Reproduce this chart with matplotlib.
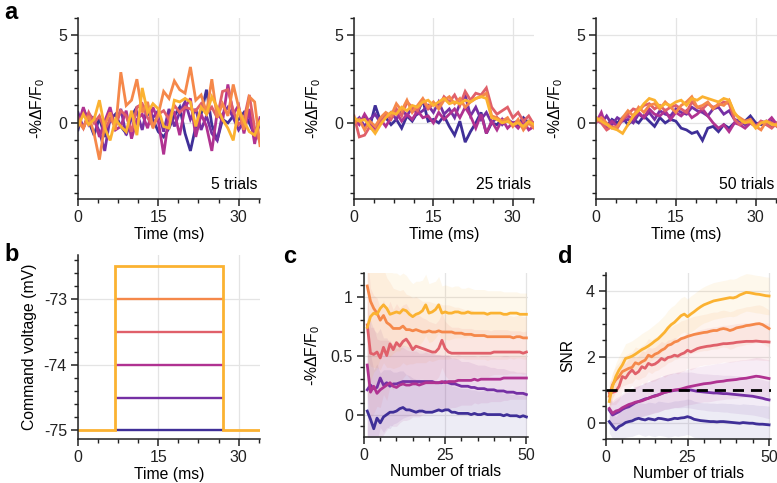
import numpy as np
import matplotlib
matplotlib.use("Agg")
import matplotlib.pyplot as plt
from matplotlib.ticker import MultipleLocator, AutoMinorLocator

plt.rcParams['font.family'] = ['Liberation Sans', 'DejaVu Sans']
plt.rcParams['mathtext.fontset'] = 'custom'
plt.rcParams['mathtext.rm'] = 'Liberation Sans'
plt.rcParams['mathtext.it'] = 'Liberation Sans:italic'
plt.rcParams['axes.unicode_minus'] = False

colors = ['#3F2F98', '#7530A4', '#B03291', '#E0606A', '#F5884A', '#FBB231']
names = ['darkblue', 'purple', 'magenta', 'salmon', 'orange', 'yellow']

# ---------------- panel a data (time 0..34 ms, 1 ms step) ----------------
time_ms = list(range(35))

a5_darkblue = [-0.4, 0.8, 0.1, -0.7, 0.3, -0.8, 0.2, 0.5, -0.2, -0.6, 0.4, 0.9, 1.0, 0.6, 0.2, -0.5, -0.8, -0.3, 0.4, 0.9, -0.6, -1.6, -0.2, 0.5, 1.9, -0.1, -1.0, 0.2, 0.0, 0.4, 0.2, 0.6, 0.0, -0.7, 0.2]
a5_purple = [0.6, -0.3, 0.5, 0.2, -0.5, -1.6, 0.3, -0.2, 0.8, -0.7, 0.3, 0.6, -0.4, 1.0, 0.3, 0.7, -0.5, 0.8, -0.2, 0.6, 1.2, 0.2, 0.8, -0.4, 0.4, -0.6, -1.0, 0.5, 0.9, 0.3, -0.4, 0.1, 0.5, -0.9, 0.0]
a5_magenta = [-0.2, 0.9, -0.1, 0.3, -0.8, 0.1, 0.9, -0.4, -0.2, 0.7, -0.9, 0.2, 0.5, -0.3, 0.9, 0.1, -1.8, 0.4, 0.6, -0.7, 0.9, 1.4, -0.8, 0.5, -0.2, -1.6, 0.6, 0.1, 2.2, 0.5, 1.0, -0.6, 0.8, -1.2, 0.3]
a5_salmon = [0.3, -0.3, 0.6, 0.0, 0.4, -0.4, 0.2, -0.1, 0.7, 0.4, -0.5, 0.9, 1.1, 0.3, -0.2, 0.5, 0.7, 0.2, 1.0, 0.6, 0.9, 0.8, 0.7, 1.1, 0.5, 0.9, 0.3, 1.8, 1.9, 0.7, -0.1, 0.2, 1.6, -0.3, -1.1]
a5_orange = [0.1, -0.3, 0.4, -0.6, -2.1, -0.1, 0.6, -0.4, 2.9, 1.0, 1.3, 2.5, 0.6, 1.2, -0.3, 0.5, 1.8, 1.4, 2.4, 1.9, 1.7, 3.2, 1.3, 1.6, 0.6, 2.5, 0.3, 1.1, 0.4, 2.2, 0.9, -0.4, 1.5, 1.2, -1.3]
a5_yellow = [-0.2, 0.5, -0.1, 0.2, 1.3, -0.3, -1.0, 0.2, -0.2, -0.5, 0.7, -0.7, 2.0, 0.6, 1.1, 0.8, -0.2, -0.3, 1.3, 1.2, 1.4, 1.2, -0.2, 0.9, 0.5, 1.5, 0.9, 0.2, -0.3, -1.0, 0.8, 0.1, -0.5, -0.7, 0.1]

a25_darkblue = [0.2, 0.0, 0.3, -0.2, 1.0, 0.1, 0.3, -0.1, 0.2, -0.3, 0.4, 0.1, 0.6, 1.3, 0.1, 0.2, 0.0, 0.4, -0.2, -0.7, 0.1, -1.1, -0.5, 0.0, 0.6, -0.6, 0.0, -0.1, 0.2, 0.1, 0.0, -0.1, 0.3, 0.0, -0.2]
a25_purple = [0.0, 0.3, -0.2, 0.2, 0.5, 0.0, 0.3, 0.6, 0.2, 0.8, 0.4, 0.9, 0.5, 0.7, 1.0, 0.6, 1.2, 0.5, 0.8, 0.3, 1.1, 1.6, 0.4, 0.9, 0.2, 0.6, 0.0, 0.3, -0.1, 0.2, 0.0, 0.1, -0.2, 0.1, 0.0]
a25_magenta = [0.2, -0.1, 0.5, 0.0, -0.3, 0.2, -0.2, 0.3, 0.6, 0.1, 0.5, 0.2, 0.7, 0.3, 0.4, 0.0, 0.6, 0.2, 0.5, 0.8, 0.3, 0.9, 0.4, -0.3, 0.5, -0.6, 0.1, -0.4, 0.2, -0.3, 0.0, -0.3, 0.1, -0.4, -0.2]
a25_salmon = [0.4, -0.8, -0.7, -0.2, -0.5, 0.0, 0.5, 0.2, 0.8, 0.4, 1.2, 0.9, 0.7, 1.3, 0.8, 1.1, 0.9, 1.5, 1.2, 1.6, 1.0, 1.8, 1.3, 1.7, 1.6, 2.0, 0.9, 0.5, 0.7, 0.9, 0.3, 0.6, 0.1, 0.4, -0.1]
a25_orange = [0.0, 0.2, -0.4, 0.1, -0.2, 0.3, 0.6, 0.4, 1.1, 0.7, 1.3, 0.6, 1.0, 1.4, 0.9, 1.2, 0.8, 1.3, 1.5, 1.1, 1.4, 0.9, 1.2, 1.4, 1.5, 1.7, 0.4, 0.3, 0.1, 0.3, -0.2, 0.2, -0.4, 0.0, -0.3]
a25_yellow = [0.3, 0.1, 0.2, -0.2, -0.6, -0.1, 0.3, 0.6, 0.5, 0.9, 0.7, 1.0, 0.9, 1.2, 1.3, 1.0, 1.2, 1.4, 1.1, 1.2, 1.1, 1.3, 1.2, 1.4, 1.5, 1.4, 0.3, 0.2, 0.0, 0.1, -0.1, 0.0, -0.2, 0.1, -0.1]

a50_darkblue = [0.3, 0.1, -0.2, 0.2, 0.0, 0.3, -0.1, 0.2, 0.0, 0.4, 0.1, -0.2, 0.3, 0.0, 0.2, 0.1, -0.3, -0.4, -0.6, -0.5, -1.0, -0.3, -0.2, -0.5, -0.1, -0.3, 0.0, 0.2, 0.1, 0.4, 0.0, -0.1, 0.1, -0.2, 0.0]
a50_purple = [0.2, 0.0, 0.4, -0.1, 0.3, 0.1, 0.2, 0.0, 0.5, 0.3, 0.6, 0.2, 0.7, 0.5, 0.4, 0.8, 0.6, 0.5, 0.9, 0.7, 0.6, 0.4, 0.8, 0.9, 0.5, 0.7, 0.2, 0.1, -0.1, 0.2, -0.2, 0.0, -0.1, 0.1, -0.2]
a50_magenta = [0.0, 0.6, -0.3, 0.1, -0.2, 0.2, 0.4, 0.2, 0.6, 0.3, 0.8, 0.5, 0.4, 0.7, 0.2, 0.6, 0.4, 0.7, 0.3, 0.5, 0.8, 0.4, 0.0, -0.3, -0.1, -0.5, 0.0, -0.1, -0.3, 0.0, -0.2, 0.1, 0.0, 0.3, -0.1]
a50_salmon = [0.2, 0.0, -0.4, -0.2, -0.3, 0.2, 0.5, 0.8, 0.7, 1.0, 1.1, 0.8, 1.0, 0.7, 0.9, 1.0, 0.8, 0.6, 1.2, 0.9, 0.8, 1.1, 0.9, 1.0, 1.2, 1.1, 0.2, -0.1, 0.1, 0.0, -0.2, 0.1, -0.1, -0.3, 0.0]
a50_orange = [0.1, 0.3, 0.0, -0.3, -0.2, 0.3, 0.7, 0.4, 0.9, 0.6, 1.0, 1.1, 0.8, 1.2, 0.9, 0.6, 1.0, 1.2, 1.5, 0.9, 1.0, 1.2, 0.8, 1.1, 1.0, 1.3, 0.5, 0.3, 0.1, 0.2, -0.2, -0.4, 0.1, 0.0, -0.2]
a50_yellow = [0.3, 0.1, -0.1, -0.3, -0.4, -0.6, -0.1, 0.4, 0.7, 1.1, 1.4, 1.3, 0.9, 1.1, 1.0, 1.2, 1.3, 1.0, 1.4, 1.3, 1.5, 1.4, 1.3, 1.2, 1.4, 1.3, 0.6, 0.2, 0.0, 0.1, -0.3, 0.0, 0.1, -0.1, -0.1]

trial_labels = ['5 trials', '25 trials', '50 trials']

# ---------------- panel b data ----------------
step_levels = [-75.0, -74.5, -74.0, -73.5, -73.0, -72.5]
baseline_mv = -75.0
step_on_ms = 7
step_off_ms = 27
trace_end_ms = 34

# ---------------- panel c data (trials 1..50) ----------------
trials = list(range(1, 51))
c_darkblue = [0.03, -0.04, -0.12, -0.03, -0.07, -0.02, 0.00, 0.02, 0.02, 0.03, 0.05, 0.06, 0.04, 0.04, 0.03, 0.02, 0.03, 0.03, 0.02, 0.02, 0.02, 0.03, 0.04, 0.03, 0.04, 0.04, 0.02, 0.02, 0.01, 0.01, 0.01, 0.01, 0.00, 0.01, 0.00, 0.00, 0.01, 0.00, 0.00, 0.00, 0.00, 0.00, -0.01, 0.00, -0.01, -0.01, -0.01, -0.02, -0.01, -0.02]
c_purple = [0.21, 0.25, 0.22, 0.23, 0.31, 0.25, 0.27, 0.24, 0.26, 0.26, 0.27, 0.28, 0.28, 0.28, 0.28, 0.28, 0.28, 0.28, 0.28, 0.28, 0.28, 0.27, 0.27, 0.27, 0.28, 0.27, 0.26, 0.26, 0.25, 0.24, 0.24, 0.24, 0.23, 0.23, 0.22, 0.22, 0.22, 0.21, 0.21, 0.21, 0.20, 0.20, 0.20, 0.19, 0.19, 0.19, 0.18, 0.18, 0.18, 0.17]
c_magenta = [0.42, 0.19, 0.24, 0.18, 0.21, 0.23, 0.25, 0.27, 0.24, 0.23, 0.25, 0.26, 0.25, 0.25, 0.26, 0.26, 0.25, 0.26, 0.27, 0.27, 0.27, 0.27, 0.27, 0.28, 0.27, 0.28, 0.28, 0.28, 0.29, 0.29, 0.29, 0.29, 0.29, 0.30, 0.29, 0.30, 0.30, 0.30, 0.30, 0.30, 0.30, 0.30, 0.31, 0.31, 0.31, 0.31, 0.31, 0.31, 0.31, 0.31]
c_salmon = [0.76, 0.52, 0.51, 0.53, 0.48, 0.57, 0.50, 0.60, 0.55, 0.61, 0.58, 0.62, 0.64, 0.60, 0.55, 0.58, 0.57, 0.56, 0.55, 0.54, 0.53, 0.53, 0.56, 0.63, 0.56, 0.53, 0.52, 0.52, 0.52, 0.52, 0.52, 0.52, 0.52, 0.52, 0.52, 0.52, 0.52, 0.52, 0.52, 0.53, 0.53, 0.53, 0.53, 0.53, 0.53, 0.53, 0.53, 0.53, 0.52, 0.53]
c_orange = [1.09, 0.96, 0.90, 0.86, 0.80, 0.84, 0.78, 0.76, 0.73, 0.73, 0.73, 0.75, 0.72, 0.72, 0.71, 0.72, 0.71, 0.70, 0.70, 0.71, 0.70, 0.70, 0.71, 0.70, 0.70, 0.70, 0.70, 0.69, 0.69, 0.69, 0.68, 0.68, 0.68, 0.67, 0.67, 0.67, 0.67, 0.66, 0.66, 0.66, 0.66, 0.66, 0.66, 0.66, 0.66, 0.65, 0.66, 0.66, 0.65, 0.65]
c_yellow = [0.74, 0.83, 0.86, 0.85, 0.90, 0.93, 0.90, 0.85, 0.86, 0.87, 0.86, 0.89, 0.88, 0.85, 0.83, 0.85, 0.86, 0.88, 0.93, 0.86, 0.87, 0.89, 0.93, 0.86, 0.87, 0.86, 0.86, 0.87, 0.87, 0.86, 0.86, 0.87, 0.86, 0.86, 0.86, 0.86, 0.86, 0.85, 0.86, 0.86, 0.86, 0.86, 0.85, 0.85, 0.86, 0.86, 0.86, 0.85, 0.85, 0.85]
c_halfwidth = [0.60, 0.55, 0.50, 0.46, 0.42, 0.40, 0.38, 0.36, 0.34, 0.33, 0.32, 0.31, 0.30, 0.29, 0.28, 0.28, 0.27, 0.26, 0.26, 0.25, 0.25, 0.24, 0.24, 0.23, 0.23, 0.23, 0.22, 0.22, 0.22, 0.21, 0.21, 0.21, 0.21, 0.20, 0.20, 0.20, 0.20, 0.20, 0.19, 0.19, 0.19, 0.19, 0.19, 0.19, 0.18, 0.18, 0.18, 0.18, 0.18, 0.18]

# ---------------- panel d data (trials 1..50) ----------------
d_darkblue = [0.03, -0.10, -0.22, -0.12, -0.07, 0.00, 0.03, 0.05, 0.10, 0.13, 0.10, 0.08, 0.12, 0.10, 0.08, 0.13, 0.12, 0.10, 0.08, 0.10, 0.13, 0.12, 0.14, 0.15, 0.18, 0.15, 0.10, 0.08, 0.06, 0.05, 0.04, 0.03, 0.03, 0.02, 0.03, 0.03, 0.02, 0.01, 0.00, -0.01, -0.02, 0.00, -0.01, -0.02, -0.02, -0.04, -0.05, -0.05, -0.06, -0.07]
d_purple = [0.38, 0.23, 0.28, 0.33, 0.40, 0.45, 0.48, 0.54, 0.60, 0.64, 0.68, 0.72, 0.74, 0.78, 0.82, 0.84, 0.88, 0.92, 0.94, 0.96, 0.98, 0.99, 0.99, 1.00, 0.99, 0.99, 0.97, 0.95, 0.94, 0.93, 0.92, 0.91, 0.90, 0.90, 0.89, 0.88, 0.88, 0.87, 0.86, 0.85, 0.84, 0.83, 0.82, 0.81, 0.80, 0.78, 0.76, 0.74, 0.71, 0.69]
d_magenta = [0.43, 0.28, 0.35, 0.38, 0.45, 0.50, 0.55, 0.58, 0.62, 0.64, 0.66, 0.70, 0.74, 0.78, 0.80, 0.84, 0.88, 0.92, 0.94, 0.97, 0.99, 1.00, 1.02, 1.05, 1.08, 1.10, 1.12, 1.14, 1.16, 1.18, 1.19, 1.20, 1.22, 1.24, 1.25, 1.26, 1.28, 1.29, 1.30, 1.31, 1.33, 1.34, 1.35, 1.37, 1.39, 1.41, 1.40, 1.38, 1.36, 1.34]
d_salmon = [0.90, 0.92, 0.95, 1.10, 1.40, 1.35, 1.50, 1.60, 1.48, 1.55, 1.70, 1.65, 1.80, 1.75, 1.78, 1.85, 1.95, 1.90, 1.98, 2.00, 2.05, 2.02, 2.08, 2.12, 2.20, 2.15, 2.20, 2.25, 2.28, 2.30, 2.32, 2.33, 2.35, 2.36, 2.38, 2.40, 2.40, 2.41, 2.42, 2.44, 2.45, 2.46, 2.47, 2.47, 2.47, 2.48, 2.47, 2.46, 2.46, 2.45]
d_orange = [0.80, 1.15, 1.30, 1.40, 1.55, 1.60, 1.65, 1.68, 1.82, 1.78, 1.85, 1.90, 2.05, 2.00, 2.08, 2.12, 2.20, 2.25, 2.35, 2.38, 2.45, 2.48, 2.55, 2.58, 2.62, 2.65, 2.68, 2.70, 2.72, 2.74, 2.75, 2.78, 2.80, 2.80, 2.84, 2.86, 2.84, 2.80, 2.83, 2.88, 2.90, 2.92, 2.95, 2.96, 2.98, 3.00, 3.01, 2.98, 2.92, 2.86]
d_yellow = [0.64, 1.10, 1.40, 1.60, 1.75, 1.95, 1.98, 2.02, 2.08, 2.15, 2.22, 2.27, 2.33, 2.40, 2.48, 2.55, 2.65, 2.75, 2.88, 2.98, 3.05, 3.15, 3.25, 3.30, 3.22, 3.30, 3.37, 3.45, 3.52, 3.58, 3.62, 3.66, 3.70, 3.72, 3.74, 3.76, 3.78, 3.80, 3.79, 3.82, 3.88, 3.92, 3.96, 3.95, 3.93, 3.91, 3.90, 3.88, 3.86, 3.85]
d_halfwidth = [0.35, 0.38, 0.40, 0.42, 0.44, 0.45, 0.46, 0.47, 0.48, 0.48, 0.49, 0.50, 0.50, 0.51, 0.51, 0.52, 0.52, 0.52, 0.53, 0.53, 0.53, 0.54, 0.54, 0.54, 0.54, 0.55, 0.55, 0.55, 0.55, 0.55, 0.56, 0.56, 0.56, 0.56, 0.56, 0.56, 0.56, 0.57, 0.57, 0.57, 0.57, 0.57, 0.57, 0.57, 0.57, 0.57, 0.57, 0.57, 0.57, 0.57]
snr_threshold = 1.0

# ---------------- figure ----------------
W, H = 777, 483
fig = plt.figure(figsize=(W / 100, H / 100), dpi=100)

def box(l, r, t, b):
    return [l / W, (H - b) / H, (r - l) / W, (b - t) / H]

TICK_FS = 11.5
LAB_FS = 11.3
GRID_C = '#e4e4e4'

def style(ax):
    for s in ['top', 'right']:
        ax.spines[s].set_visible(False)
    for s in ['left', 'bottom']:
        ax.spines[s].set_linewidth(1.1)
        ax.spines[s].set_color('#222222')
    ax.tick_params(which='major', direction='out', length=5, width=1.1, labelsize=TICK_FS, colors='#222222', pad=3)
    ax.tick_params(which='minor', direction='out', length=3, width=1.0, colors='#222222')
    ax.grid(True, which='major', color=GRID_C, linewidth=0.9)
    ax.set_axisbelow(True)

ylab_a = '-%ΔF/F$_\\mathregular{0}$'

a_sets = [
    [a5_darkblue, a5_purple, a5_magenta, a5_salmon, a5_orange, a5_yellow],
    [a25_darkblue, a25_purple, a25_magenta, a25_salmon, a25_orange, a25_yellow],
    [a50_darkblue, a50_purple, a50_magenta, a50_salmon, a50_orange, a50_yellow],
]
a_boxes = [box(78, 260, 18, 199), box(354, 534, 18, 199), box(596, 777, 18, 199)]

for i in range(3):
    ax = fig.add_axes(a_boxes[i])
    style(ax)
    for series, c in zip(a_sets[i], colors):
        ax.plot(time_ms, series, color=c, lw=2.0, solid_joinstyle='miter')
    ax.set_xlim(0, 34)
    ax.set_ylim(-4.35, 6)
    ax.xaxis.set_major_locator(MultipleLocator(15))
    ax.xaxis.set_minor_locator(MultipleLocator(3.75))
    ax.yaxis.set_major_locator(MultipleLocator(5))
    ax.yaxis.set_minor_locator(MultipleLocator(1))
    ax.set_xlabel('Time (ms)', fontsize=LAB_FS, labelpad=1)
    ax.set_ylabel(ylab_a, fontsize=LAB_FS, labelpad=8)
    ax.text(0.985, 0.04, trial_labels[i], transform=ax.transAxes, ha='right', va='bottom', fontsize=LAB_FS)

# panel b
axb = fig.add_axes(box(78, 260, 255, 439))
style(axb)
for lvl, c in zip(step_levels[:-1], colors[:-1]):
    axb.plot([step_on_ms, step_off_ms], [lvl, lvl], color=c, lw=1.7, solid_capstyle='butt')
axb.plot([0, step_on_ms, step_on_ms, step_off_ms, step_off_ms, trace_end_ms],
         [baseline_mv, baseline_mv, step_levels[-1], step_levels[-1], baseline_mv, baseline_mv],
         color=colors[-1], lw=2.0, solid_joinstyle='miter')
axb.set_xlim(0, 34)
axb.set_ylim(-75.13, -72.33)
axb.xaxis.set_major_locator(MultipleLocator(15))
axb.xaxis.set_minor_locator(MultipleLocator(3.75))
axb.yaxis.set_major_locator(MultipleLocator(1))
axb.yaxis.set_minor_locator(MultipleLocator(0.2))
axb.set_xlabel('Time (ms)', fontsize=LAB_FS, labelpad=1)
axb.set_ylabel('Command voltage (mV)', fontsize=LAB_FS, labelpad=5)

# panel c
axc = fig.add_axes(box(364, 528, 273, 437))
style(axc)
c_sets = [c_darkblue, c_purple, c_magenta, c_salmon, c_orange, c_yellow]
hw_c = np.array(c_halfwidth)
for series, c in zip(c_sets, colors):
    s = np.array(series)
    axc.fill_between(trials, s - hw_c, s + hw_c, color=c, alpha=0.09, lw=0)
for series, c in zip(c_sets, colors):
    axc.plot(trials, series, color=c, lw=2.0)
axc.set_xlim(0, 50.5)
axc.set_ylim(-0.19, 1.2)
axc.xaxis.set_major_locator(MultipleLocator(25))
axc.xaxis.set_minor_locator(MultipleLocator(5))
axc.yaxis.set_major_locator(MultipleLocator(0.5))
axc.yaxis.set_minor_locator(MultipleLocator(0.1))
axc.yaxis.set_major_formatter(matplotlib.ticker.FuncFormatter(lambda v, p: ('%g' % v)))
axc.set_xlabel('Number of trials', fontsize=LAB_FS, labelpad=1)
axc.set_ylabel(ylab_a, fontsize=LAB_FS, labelpad=6)

# panel d
axd = fig.add_axes(box(606, 771, 273, 439))
style(axd)
d_sets = [d_darkblue, d_purple, d_magenta, d_salmon, d_orange, d_yellow]
hw_d = np.array(d_halfwidth)
for series, c in zip(d_sets, colors):
    s = np.array(series)
    axd.fill_between(trials, s - hw_d, s + hw_d, color=c, alpha=0.09, lw=0)
for series, c in zip(d_sets, colors):
    axd.plot(trials, series, color=c, lw=2.0)
axd.axhline(snr_threshold, color='black', lw=2.0, ls=(0, (4, 2.5)), zorder=5)
axd.set_xlim(0, 50.6)
axd.set_ylim(-0.5, 4.55)
axd.xaxis.set_major_locator(MultipleLocator(25))
axd.xaxis.set_minor_locator(MultipleLocator(5))
axd.yaxis.set_major_locator(MultipleLocator(2))
axd.yaxis.set_minor_locator(MultipleLocator(0.5))
axd.set_xlabel('Number of trials', fontsize=LAB_FS, labelpad=1)
axd.set_ylabel('SNR', fontsize=LAB_FS, labelpad=8)

# panel letters
for letter, (x, y) in zip('abcd', [(4, 1), (4, 243), (283, 245), (558, 245)]):
    fig.text(x / W, 1 - y / H, letter, fontsize=17, fontweight='bold', ha='left', va='top')

fig.savefig('out.png', dpi=100)
